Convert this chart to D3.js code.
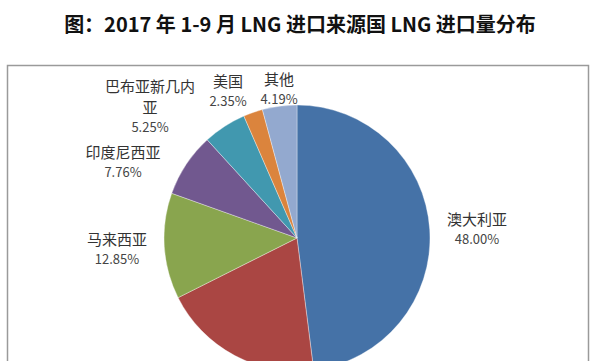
<!DOCTYPE html>
<html>
<head>
<meta charset="utf-8">
<script src="https://cdn.jsdelivr.net/npm/d3@7"></script>
<style>
  html, body { margin: 0; padding: 0; background: #fff; }
  svg { display: block; }
</style>
</head>
<body>
<svg id="chart" width="600" height="361"></svg>
<script>
// ---- data ----
const categories = ["澳大利亚", "卡塔尔", "马来西亚", "印度尼西亚", "巴布亚新几内亚", "美国", "其他"];
const values = [48.00, 19.60, 12.85, 7.76, 5.25, 2.35, 4.19];
const percentLabels = ["48.00%", "19.60%", "12.85%", "7.76%", "5.25%", "2.35%", "4.19%"];
const titleText = "图：2017 年 1-9 月 LNG 进口来源国 LNG 进口量分布";

// ---- layout / style (kept apart from data) ----
const colors = ["#4572A7", "#AA4643", "#89A54E", "#71588F", "#4198AF", "#DB843D", "#93A9CF"];
// label for 卡塔尔 falls below the visible area in the reference, so it has no layout entry
const labelLayout = {
  "澳大利亚": { x: 477, y: 225, lines: ["澳大利亚"] },
  "马来西亚": { x: 117, y: 245, lines: ["马来西亚"] },
  "印度尼西亚": { x: 123, y: 158, lines: ["印度尼西亚"] },
  "巴布亚新几内亚": { x: 150, y: 92, lines: ["巴布亚新几内", "亚"] },
  "美国": { x: 228, y: 87, lines: ["美国"] },
  "其他": { x: 279, y: 85, lines: ["其他"] }
};
const cx = 297, cy = 238, radius = 133;

const svg = d3.select("#chart");

// frame
svg.append("rect")
  .attr("x", 7.5).attr("y", 65.5)
  .attr("width", 581).attr("height", 320)
  .attr("fill", "none").attr("stroke", "#9a9a9a").attr("stroke-width", 1.5);

// title
svg.append("text")
  .attr("x", 300).attr("y", 32)
  .attr("text-anchor", "middle")
  .attr("font-family", "'Noto Sans CJK SC', 'Noto Sans', sans-serif")
  .attr("font-weight", 700)
  .attr("font-size", 20)
  .attr("fill", "#111")
  .text(titleText);

const data = categories.map((c, i) => ({ name: c, value: values[i], pct: percentLabels[i], color: colors[i] }));

const pie = d3.pie().sort(null).value(d => d.value).startAngle(0).endAngle(2 * Math.PI);
const arc = d3.arc().innerRadius(0).outerRadius(radius);

const g = svg.append("g").attr("transform", `translate(${cx},${cy})`);
g.selectAll("path")
  .data(pie(data))
  .join("path")
  .attr("d", arc)
  .attr("fill", d => d.data.color)
  .attr("stroke", "rgba(255,255,255,0.5)")
  .attr("stroke-width", 0.7);

// labels
const lab = svg.append("g")
  .attr("font-family", "'Noto Sans CJK SC', 'Noto Sans', sans-serif")
  .attr("fill", "#333")
  .attr("text-anchor", "middle");

data.forEach(d => {
  const L = labelLayout[d.name];
  if (!L) return;
  const lineH = 21;
  L.lines.forEach((ln, k) => {
    lab.append("text")
      .attr("x", L.x).attr("y", L.y + k * lineH)
      .attr("font-size", 15)
      .text(ln);
  });
  lab.append("text")
    .attr("x", L.x).attr("y", L.y + (L.lines.length - 1) * lineH + 19)
    .attr("font-size", 13)
    .attr("fill", "#444")
    .text(d.pct);
});
</script>
</body>
</html>
